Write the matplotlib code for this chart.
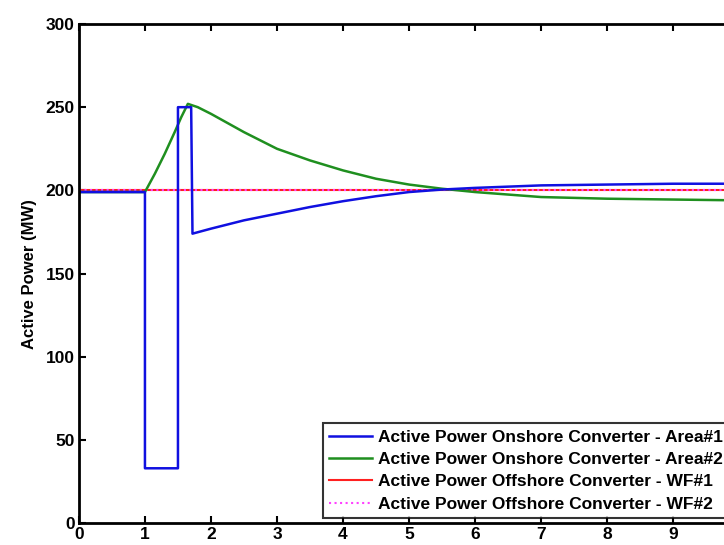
import matplotlib
matplotlib.use('Agg')
import matplotlib.pyplot as plt

# time (s) and active power (MW)
t_area1 = [0, 1.0, 1.0, 1.5, 1.5, 1.7, 1.72, 2.0, 2.5, 3.0, 3.5, 4.0, 4.5, 5.0, 5.5, 6.0, 7.0, 8.0, 9.0, 10.0]
p_area1 = [199, 199, 33, 33, 250, 250, 174, 177, 182, 186, 190, 193.5, 196.5, 199, 200.5, 201.5, 203, 203.5, 204, 204]

t_area2 = [0, 1.0, 1.15, 1.3, 1.45, 1.55, 1.65, 1.8, 2.0, 2.5, 3.0, 3.5, 4.0, 4.5, 5.0, 5.5, 6.0, 7.0, 8.0, 9.0, 10.0]
p_area2 = [199, 199, 210, 222, 235, 244, 252, 250, 246, 235, 225, 218, 212, 207, 203.5, 201, 199, 196, 195, 194.5, 194]

t_wf = [0, 10]
p_wf1 = [200, 200]
p_wf2 = [200, 200]

x_ticks = list(range(0, 11))
x_ticklabels = [str(v) for v in range(0, 10)] + [""]  # "10" falls outside the cropped picture

labels = ["Active Power Onshore Converter - Area#1",
          "Active Power Onshore Converter - Area#2",
          "Active Power Offshore Converter - WF#1",
          "Active Power Offshore Converter - WF#2"]

plt.rcParams['font.family'] = ['Liberation Sans', 'DejaVu Sans']
plt.rcParams['font.weight'] = 'bold'

fig = plt.figure(figsize=(7.24, 5.45), dpi=100)
ax = fig.add_axes([0.109, 0.040, 0.912, 0.916])

ax.plot(t_wf, p_wf1, color='#ff2020', lw=1.5, label=labels[2])
ax.plot(t_wf, p_wf2, color='#ff40ff', lw=1.5, ls=':', label=labels[3])
ax.plot(t_area2, p_area2, color='#1f8f1f', lw=1.8, label=labels[1])
ax.plot(t_area1, p_area1, color='#1010e0', lw=1.8, label=labels[0])

ax.set_xlim(0, 10)
ax.set_ylim(0, 300)
ax.set_xticks(x_ticks)
ax.set_xticklabels(x_ticklabels)
ax.set_yticks(range(0, 301, 50))
ax.tick_params(direction='in', top=True, right=True, labelsize=12.5, width=1.5, length=5, pad=3)
for s in ax.spines.values():
    s.set_linewidth(2)
ax.set_ylabel("Active Power (MW)", fontsize=12, fontweight='bold', labelpad=6)

h, l = ax.get_legend_handles_labels()
order = [3, 2, 0, 1]
leg = ax.legend([h[i] for i in order], [l[i] for i in order], loc='lower right',
                bbox_to_anchor=(0.993, 0.0), fontsize=12.5, frameon=True, fancybox=False,
                edgecolor='black', handlelength=2.5, handletextpad=0.35, borderaxespad=0.3,
                labelspacing=0.42, borderpad=0.35)
leg.get_frame().set_linewidth(1.5)

fig.savefig("out.png", dpi=100)
